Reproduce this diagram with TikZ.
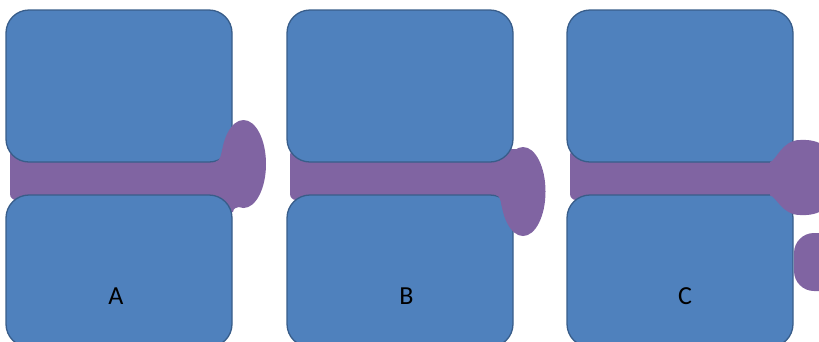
\documentclass[tikz,border=0pt]{standalone}
\usepackage{fontspec}
\setmainfont{Carlito}

\definecolor{bodyblue}{HTML}{4F81BD}
\definecolor{bodyedge}{HTML}{385D8A}
\definecolor{discpurple}{HTML}{8064A2}

\tikzset{
  vertebra/.style={rectangle, draw=bodyedge, fill=bodyblue, line width=1.3pt,
                   rounded corners=23pt, minimum width=226pt, minimum height=152pt, inner sep=0pt},
  disc/.style={fill=discpurple},
  tag/.style={font=\fontsize{26}{30}\selectfont, text=black, inner sep=0pt},
}

\begin{document}
\begin{tikzpicture}[x=1pt, y=-1pt]
  \useasboundingbox (0,0) rectangle (819,341);

  % A -- bulge lies over the upper body
  \fill[disc, rounded corners=6pt] (10,149) rectangle (243,200);
  \node[vertebra] (upperA) at (119,86) {};
  \fill[disc] (243.5,164) ellipse [x radius=22.5pt, y radius=44pt];
  \fill[disc] (216,161.4) .. controls (219.5,161.4) and (221.3,155) .. (222.4,149)
    -- (232,149) -- (232,164) -- (216,164) -- cycle;
  \fill[disc] (224,196) -- (224,212) -- (233,212) .. controls (233.3,208.5) and (236,207.2) .. (239,207)
    -- (240,196) -- cycle;
  \node[vertebra] (lowerA) at (119,271) {};
  \node[tag] (tagA) at (116,296.5) {A};

  % B -- bulge pushed down over the lower body
  \fill[disc, rounded corners=6pt] (290,149) rectangle (523,200);
  \node[vertebra] (lowerB) at (400,271) {};
  \fill[disc] (523,191.5) ellipse [x radius=22.5pt, y radius=44.5pt];
  \fill[disc] (496,195.2) .. controls (499.5,195.2) and (500.8,200.7) .. (501.9,206.7)
    -- (510,206.7) -- (510,193) -- (496,193) -- cycle;
  \node[vertebra] (upperB) at (400,86) {};
  \node[tag] (tagB) at (406.5,296.5) {B};

  % C -- bulge plus a loose fragment
  \fill[disc, rounded corners=6pt] (570,149) rectangle (830,200);
  \node[vertebra] (upperC) at (680,86) {};
  \node[vertebra] (lowerC) at (680,271) {};
  \fill[disc] (770,162) .. controls (776,161) and (782,140) .. (800,140)
    .. controls (810,139.5) and (818,141) .. (826,147) -- (826,208)
    .. controls (818,214) and (810,215.5) .. (800,215)
    .. controls (782,215) and (776,196) .. (770,195.5) -- cycle;
  \fill[disc, rounded corners=20pt] (794,233) rectangle (850,291);
  \node[tag] (tagC) at (685,296.5) {C};
\end{tikzpicture}
\end{document}
